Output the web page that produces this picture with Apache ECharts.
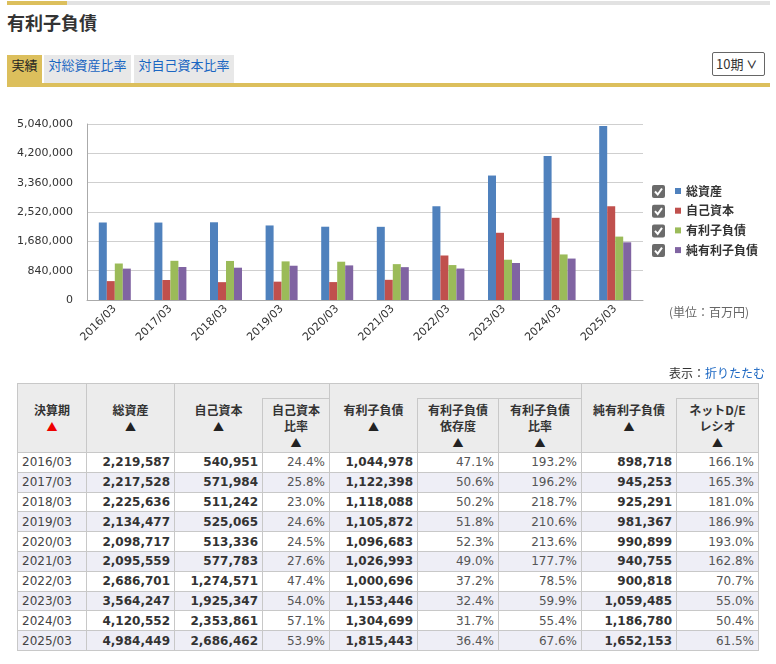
<!DOCTYPE html>
<html lang="ja">
<head>
<meta charset="UTF-8">
<title>有利子負債</title>
<script src="https://cdn.jsdelivr.net/npm/echarts@6/dist/echarts.min.js"></script>
<style>
  body { margin: 0; background: #fff; font-family: "DejaVu Sans", "Noto Sans CJK JP", sans-serif; color: #333; }
  .abs { position: absolute; }
  .topbar { left: 7px; top: 1px; width: 763px; height: 4px; background: #e2e2e2; }
  .topbar div { width: 60px; height: 4px; background: #dcbf5c; }
  .title { left: 7px; top: 9px; font: bold 18px "Noto Sans CJK JP", sans-serif; color: #333; }
  .tab { top: 55px; height: 28px; line-height: 28px; font: 13px "Noto Sans CJK JP", sans-serif; text-align: center; background: #e8e8e8; color: #1a66c2; }
  .tab.on { background: #dcbf5c; color: #222; }
  .goldline { left: 7px; top: 83px; width: 763px; height: 4px; background: #dcbf5c; }
  .sel { left: 712px; top: 52px; border: 1px solid #666; border-radius: 2px; font: 13px "Noto Sans CJK JP", sans-serif; line-height: 22px; padding-left: 3px; box-sizing: border-box; width: 53px; height: 24px; }
  .sel b { font-size: 11px; }
  .fold { right: 11px; top: 364px; font: 12px "Noto Sans CJK JP", sans-serif; color: #333; }
  .fold span { color: #1a66c2; }
  #chart { left: 0; top: 100px; width: 776px; height: 265px; }
  table { position: absolute; left: 17px; top: 383px; border-collapse: collapse; table-layout: fixed; font-size: 12px; }
  th, td { border: 1px solid #c8c8c8; padding: 0 4px; }
  th { background: #ececec; font: bold 12px "Noto Sans CJK JP", sans-serif; line-height: 16px; vertical-align: top; text-align: center; color: #333; }
  tr.g th { height: 14px; border-bottom: none; padding: 0; }
  tr.h th { height: 50px; padding-top: 3px; }
  tr.h th.nt { border-top: none; }
  td { height: 18.8px; line-height: 18px; text-align: right; white-space: nowrap; }
  td.p { color: #555; }
  td.b { font-weight: bold; color: #333; }
  td.d { text-align: left; color: #444; }
  tbody tr:nth-child(even) td { background: #eeeef6; }
  .up { font-size: 11px; color: #222; }
  .red { color: #e00; }
</style>
</head>
<body>
<div class="abs topbar"><div></div></div>
<div class="abs title">有利子負債</div>
<div class="abs tab on" style="left:7px;width:35px">実績</div>
<div class="abs tab" style="left:44px;width:87px">対総資産比率</div>
<div class="abs tab" style="left:134px;width:100px">対自己資本比率</div>
<div class="abs goldline"></div>
<div class="abs sel">10期 <b>&#x2228;</b></div>
<div id="chart" class="abs"></div>
<div class="abs fold">表示：<span>折りたたむ</span></div>
<table id="tbl">
  <colgroup>
    <col style="width:69px"><col style="width:88px"><col style="width:88px"><col style="width:67px"><col style="width:88px"><col style="width:81px"><col style="width:83px"><col style="width:95px"><col style="width:82px">
  </colgroup>
  <thead>
    <tr class="g">
      <th rowspan="2" style="padding-top:18px">決算期<br><span class="up red">▲</span></th>
      <th rowspan="2" style="padding-top:18px">総資産<br><span class="up">▲</span></th>
      <th colspan="2"></th>
      <th colspan="3"></th>
      <th colspan="2"></th>
    </tr>
    <tr class="h">
      <th class="nt">自己資本<br><span class="up">▲</span></th>
      <th>自己資本<br>比率<br><span class="up">▲</span></th>
      <th class="nt">有利子負債<br><span class="up">▲</span></th>
      <th>有利子負債<br>依存度<br><span class="up">▲</span></th>
      <th>有利子負債<br>比率<br><span class="up">▲</span></th>
      <th class="nt">純有利子負債<br><span class="up">▲</span></th>
      <th>ネットD/E<br>レシオ<br><span class="up">▲</span></th>
    </tr>
  </thead>
  <tbody></tbody>
</table>
<script>
  // 決算期
  const periods = ['2016/03', '2017/03', '2018/03', '2019/03', '2020/03', '2021/03', '2022/03', '2023/03', '2024/03', '2025/03']
  // 総資産
  const totalAssets = [2219587, 2217528, 2225636, 2134477, 2098717, 2095559, 2686701, 3564247, 4120552, 4984449]
  // 自己資本
  const equity = [540951, 571984, 511242, 525065, 513336, 577783, 1274571, 1925347, 2353861, 2686462]
  // 自己資本比率
  const equityRatio = ['24.4%', '25.8%', '23.0%', '24.6%', '24.5%', '27.6%', '47.4%', '54.0%', '57.1%', '53.9%']
  // 有利子負債
  const debt = [1044978, 1122398, 1118088, 1105872, 1096683, 1026993, 1000696, 1153446, 1304699, 1815443]
  // 有利子負債依存度
  const debtDependence = ['47.1%', '50.6%', '50.2%', '51.8%', '52.3%', '49.0%', '37.2%', '32.4%', '31.7%', '36.4%']
  // 有利子負債比率
  const debtRatio = ['193.2%', '196.2%', '218.7%', '210.6%', '213.6%', '177.7%', '78.5%', '59.9%', '55.4%', '67.6%']
  // 純有利子負債
  const netDebt = [898718, 945253, 925291, 981367, 990899, 940755, 900818, 1059485, 1186780, 1652153]
  // ネットD/Eレシオ
  const netDE = ['166.1%', '165.3%', '181.0%', '186.9%', '193.0%', '162.8%', '70.7%', '55.0%', '50.4%', '61.5%']

  const seriesNames = ['総資産', '自己資本', '有利子負債', '純有利子負債']
  const seriesColors = ['#4f81bd', '#c0504d', '#9bbb59', '#8064a2']
  const yTicks = { min: 0, max: 5040000, interval: 840000 }

  function comma(v) {
    return String(v).replace(/\B(?=(\d{3})+(?!\d))/g, ',')
  }

  // -----------表格-----------
  const tbody = document.querySelector('#tbl tbody')
  periods.forEach((p, i) => {
    const tr = document.createElement('tr')
    tr.innerHTML = '<td class="d">' + p + '</td>' +
      '<td class="b">' + comma(totalAssets[i]) + '</td>' +
      '<td class="b">' + comma(equity[i]) + '</td>' +
      '<td class="p">' + equityRatio[i] + '</td>' +
      '<td class="b">' + comma(debt[i]) + '</td>' +
      '<td class="p">' + debtDependence[i] + '</td>' +
      '<td class="p">' + debtRatio[i] + '</td>' +
      '<td class="b">' + comma(netDebt[i]) + '</td>' +
      '<td class="p">' + netDE[i] + '</td>'
    tbody.appendChild(tr)
  })

  // -----------图表-----------
  const values = [totalAssets, equity, debt, netDebt]
  // 凡例のチェックボックス (装飾)
  const checkboxes = []
  seriesNames.forEach((name, i) => {
    const y = 85 + i * 19.7
    checkboxes.push({
      type: 'rect',
      shape: { x: 652, y: y, width: 13, height: 13, r: 2 },
      style: { fill: '#6b6b6b' }
    })
    checkboxes.push({
      type: 'polyline',
      shape: { points: [[655, y + 6.5], [657.7, y + 9.5], [662, y + 3.5]] },
      style: { stroke: '#fff', lineWidth: 2, fill: null }
    })
  })

  const chart = echarts.init(document.getElementById('chart'))
  chart.setOption({
    animation: false,
    grid: { left: 87, right: 133, top: 24, height: 176 },
    legend: {
      orient: 'vertical', left: 670, top: 79,
      itemWidth: 6, itemHeight: 6, itemGap: 5.7, icon: 'rect',
      selectedMode: false,
      textStyle: { fontFamily: 'Noto Sans CJK JP', fontWeight: 'bold', fontSize: 12, color: '#333', lineHeight: 14 },
      data: seriesNames
    },
    graphic: checkboxes.concat([{
      type: 'text', left: 669, top: 206,
      style: { text: '(単位：百万円)', fill: '#666', font: '12px "Noto Sans CJK JP"' }
    }]),
    xAxis: {
      type: 'category',
      data: periods,
      axisLine: { lineStyle: { color: '#aaa' } },
      axisTick: { length: 5, lineStyle: { color: '#aaa' } },
      axisLabel: { rotate: 45, margin: 7, fontSize: 11, color: '#333', fontFamily: 'DejaVu Sans' }
    },
    yAxis: {
      type: 'value',
      min: yTicks.min, max: yTicks.max, interval: yTicks.interval,
      axisLine: { show: true, lineStyle: { color: '#aaa' } },
      axisTick: { show: false },
      splitLine: { lineStyle: { color: '#cfcfcf' } },
      axisLabel: { margin: 14, fontSize: 11, color: '#333', fontFamily: 'DejaVu Sans', formatter: v => comma(v) }
    },
    series: seriesNames.map((name, i) => ({
      name: name,
      type: 'bar',
      barWidth: 8,
      barGap: 0,
      itemStyle: { color: seriesColors[i] },
      data: values[i]
    }))
  })
</script>
</body>
</html>
